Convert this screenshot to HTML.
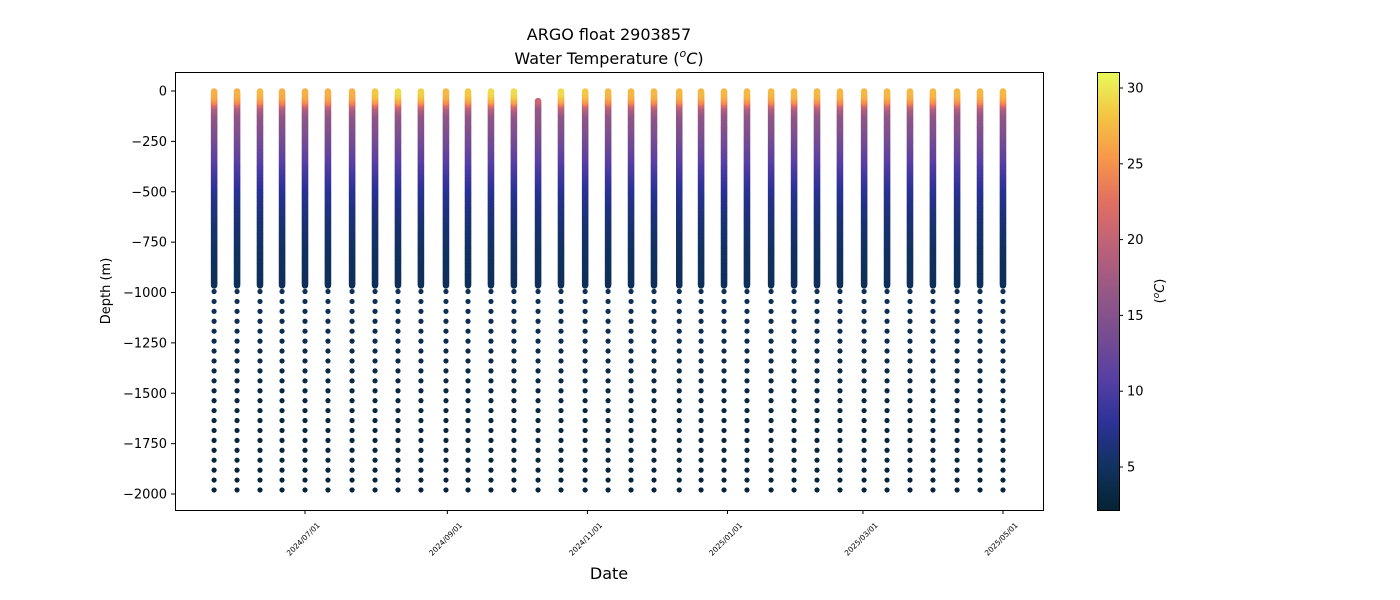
<!DOCTYPE html>
<html><head><meta charset="utf-8"><style>
html,body{margin:0;padding:0;background:#fff;}
svg{display:block;font-family:"DejaVu Sans","Liberation Sans",sans-serif;}
</style></head><body>
<svg id="chart" width="1400" height="600" viewBox="0 0 1400 600" xmlns="http://www.w3.org/2000/svg">
<rect width="1400" height="600" fill="#fff"/>
<text x="609" y="40" font-size="16" text-anchor="middle">ARGO float 2903857</text>
<text x="609" y="64" font-size="16" text-anchor="middle">Water Temperature (<tspan font-style="italic" font-size="11" dy="-7">o</tspan><tspan font-style="italic" dy="7">C</tspan>)</text>
<defs>
<clipPath id="plotclip"><rect x="175" y="72" width="868" height="438"/></clipPath>
<linearGradient id="cbgrad" x1="0" y1="1" x2="0" y2="0"></linearGradient>
</defs>
<g id="marks" clip-path="url(#plotclip)"></g>
<rect x="175.5" y="72.5" width="868" height="438" fill="none" stroke="#000" stroke-width="1"/>
<g id="yaxis"></g>
<g id="xaxis"></g>
<text transform="translate(110,291) rotate(-90)" font-size="13" text-anchor="middle">Depth (m)</text>
<text x="609" y="579" font-size="16" text-anchor="middle">Date</text>
<rect x="1097.5" y="72.5" width="22" height="438" fill="url(#cbgrad)" stroke="#000" stroke-width="1"/>
<g id="cbaxis"></g>
<text transform="translate(1164,291) rotate(-90)" font-size="13" text-anchor="middle">(<tspan font-style="italic" font-size="9" dy="-5">o</tspan><tspan font-style="italic" dy="5">C</tspan>)</text>
</svg>
<script>
// ---- data ----
const profileDays = [-39.6,-29.6,-19.6,-10,0,10,20.5,30.5,40.5,50.5,61.4,71,81,91,101.5,111.5,122,132,142,152,163,172.5,182.5,192.5,203,213,223,233,243.5,253.5,263.5,273.5,284,294,304];
const surfaceTemps = [27,27,27.5,27,27,27,27,28.5,29.5,29,27.5,28.5,29.5,29.5,20,29.5,28.5,27.5,27.5,27.5,27.5,27.5,27.5,27.5,27.5,27.5,27.5,27.5,27.5,27.5,27.5,27.5,27.5,27.5,27.5];
const topDepths = [0,0,0,0,0,0,0,0,0,0,0,0,0,0,50,0,0,0,0,0,0,0,0,0,0,0,0,0,0,0,0,0,0,0,0];
const shapeDepths = [0,20,50,80,120,200,300,400,500,650,800,1000,1500,2000];
const shapeTemps  = [0,-0.5,-3,-9,-12,-13.5,-16,-18.5,-20.5,-22,-23,-23.5,-25,-25.5];
const yTicks = [0,-250,-500,-750,-1000,-1250,-1500,-1750,-2000];
const xTickLabels = ["2024/07/01","2024/09/01","2024/11/01","2025/01/01","2025/03/01","2025/05/01"];
const xTickDays = [0,62,123,184,243,304];
const cbTicks = [5,10,15,20,25,30];
const cmin = 2.16, cmax = 31.05;
const cmapStops = [[0,"#042333"],[0.1,"#11325f"],[0.2,"#2c3297"],[0.3,"#573fa3"],[0.4,"#764d91"],[0.5,"#965885"],[0.6,"#bb617a"],[0.7,"#e06e62"],[0.8,"#f7954a"],[0.9,"#f3c442"],[1,"#e8fa5b"]];
// ---- scales ----
const xScale = d => 305 + d*2.296;
const yScale = v => 91 - v*0.2015;
const cbScale = v => 467 - (v-5)*15.16;
const NS="http://www.w3.org/2000/svg";
function mk(tag, attrs, parent){const e=document.createElementNS(NS,tag);for(const k in attrs)e.setAttribute(k,attrs[k]);parent.appendChild(e);return e;}
function hex(h){return [parseInt(h.slice(1,3),16),parseInt(h.slice(3,5),16),parseInt(h.slice(5,7),16)];}
function cmap(v){let t=(v-cmin)/(cmax-cmin);t=Math.max(0,Math.min(1,t));
 for(let i=1;i<cmapStops.length;i++){if(t<=cmapStops[i][0]){const a=cmapStops[i-1],b=cmapStops[i];const f=(t-a[0])/(b[0]-a[0]);const ca=hex(a[1]),cb=hex(b[1]);return "rgb("+ca.map((c,j)=>Math.round(c+(cb[j]-c)*f)).join(",")+")";}}
 return cmapStops[cmapStops.length-1][1];}
function shape(d){for(let i=1;i<shapeDepths.length;i++){if(d<=shapeDepths[i]){const f=(d-shapeDepths[i-1])/(shapeDepths[i]-shapeDepths[i-1]);return shapeTemps[i-1]+(shapeTemps[i]-shapeTemps[i-1])*f;}}return shapeTemps[shapeTemps.length-1];}
function temp(p,d){const base=28+shape(d);const adj=(surfaceTemps[p]-28)*Math.max(0,1-d/120);return Math.max(2.6,base+adj);}
// gradient
const grad=document.getElementById('cbgrad');
cmapStops.forEach(s=>{mk('stop',{offset:s[0],'stop-color':s[1]},grad);});
// marks
const marks=document.getElementById('marks');
profileDays.forEach((day,p)=>{
 const x=xScale(day);
 const g=mk('g',{},marks);
 
 
 for(let d=965;d>=topDepths[p];d-=3){mk('circle',{cx:x,cy:yScale(-d),r:3.2,fill:cmap(temp(p,d))},g);}
 for(let d=995;d<=1980;d+=49.25){mk('circle',{cx:x,cy:yScale(-d),r:2.6,fill:cmap(temp(p,d))},g);}
});
// y axis
const ya=document.getElementById('yaxis');
yTicks.forEach(v=>{const y=yScale(v);mk('line',{x1:171,x2:175,y1:y,y2:y,stroke:'#000'},ya);
 const t=mk('text',{x:167,y:y+4.5,'font-size':13,'text-anchor':'end'},ya);t.textContent=(v<0?'\u2212':'')+Math.abs(v);
 
 });
// x axis
const xa=document.getElementById('xaxis');
xTickDays.forEach((d,i)=>{const x=xScale(d);mk('line',{x1:x,x2:x,y1:510,y2:514,stroke:'#000'},xa);
 const t=mk('text',{transform:'translate('+x+',541) rotate(-45)','font-size':7.5,'text-anchor':'middle'},xa);t.textContent=xTickLabels[i];
 
 });
// colorbar axis
const ca=document.getElementById('cbaxis');
cbTicks.forEach(v=>{const y=cbScale(v);mk('line',{x1:1119,x2:1123,y1:y,y2:y,stroke:'#000'},ca);
 const t=mk('text',{x:1127,y:y+4.5,'font-size':13},ca);t.textContent=v;
 
 });
</script>
</body></html>
